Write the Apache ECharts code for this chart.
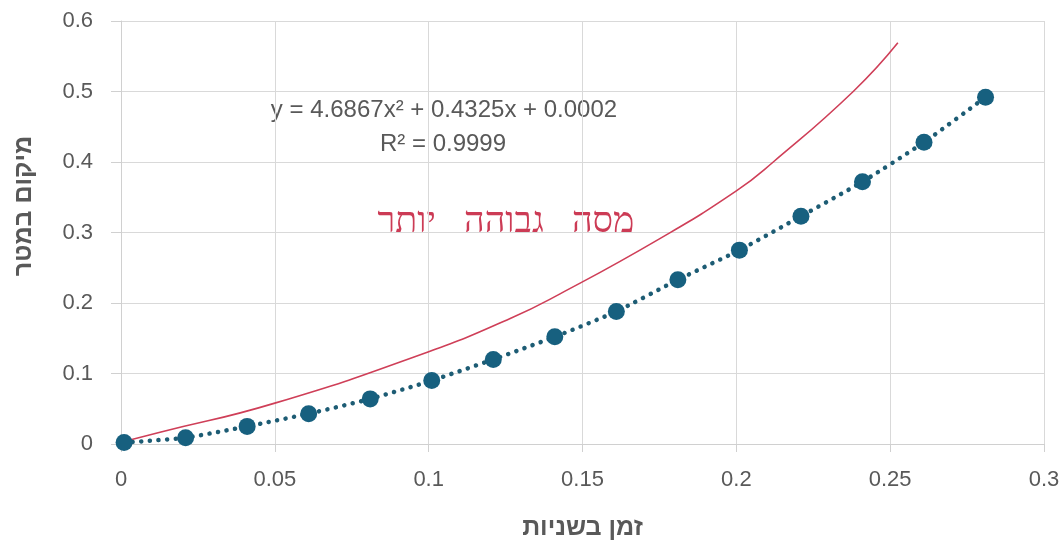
<!DOCTYPE html>
<html>
<head>
<meta charset="utf-8">
<script src="https://cdn.jsdelivr.net/npm/echarts@6/dist/echarts.min.js"></script>
<style>html,body{margin:0;padding:0;background:#fff;overflow:hidden}#c{width:1064px;height:546px}</style>
</head>
<body>
<div id="c"></div>
<script>
// Measured data (time in seconds, position in meters)
var timeValues = [0.001, 0.021, 0.041, 0.061, 0.081, 0.101, 0.121, 0.141, 0.161, 0.181, 0.201, 0.221, 0.241, 0.261, 0.281];
var positionValues = [0.002, 0.009, 0.025, 0.043, 0.064, 0.09, 0.12, 0.152, 0.188, 0.233, 0.275, 0.323, 0.372, 0.428, 0.492];
// Hand-drawn red curve ("higher mass")
var redX = [0.0013, 0.013, 0.05, 0.1, 0.1265, 0.1427, 0.175, 0.2, 0.212, 0.238, 0.2525];
var redY = [0.004, 0.017, 0.058, 0.131, 0.178, 0.213, 0.291, 0.359, 0.4, 0.5, 0.569];
var xTicks = [0, 0.05, 0.1, 0.15, 0.2, 0.25, 0.3];
var yTicks = [0, 0.1, 0.2, 0.3, 0.4, 0.5, 0.6];
var xTitle = 'זמן בשניות';
var yTitle = 'מיקום במטר';
var equationText = 'y = 4.6867x² + 0.4325x + 0.0002';
var r2Text = 'R² = 0.9999';
var noteText = 'מסה   גבוהה   יותר';

var pts = timeValues.map(function (x, i) { return [x, positionValues[i]]; });
var red = redX.map(function (x, i) { return [x, redY[i]]; });

var el = document.getElementById('c');
var chart = echarts.init(el);
var H = el.clientHeight;
var grey = '#595959';
var fmt = function (v) { return String(parseFloat(v.toFixed(2))); };
chart.setOption({
  animation: false,
  grid: { left: 121, right: 20, top: 21, bottom: H - 446 },
  xAxis: {
    type: 'value', min: xTicks[0], max: xTicks[xTicks.length - 1], interval: 0.05,
    name: xTitle, nameLocation: 'middle', nameGap: 72,
    nameTextStyle: { color: grey, fontSize: 25, fontWeight: 'bold', fontFamily: 'Liberation Sans' },
    axisLine: { show: true, lineStyle: { color: '#d0d0d0', width: 1 } },
    axisTick: { show: true, length: 8, lineStyle: { color: '#d0d0d0' } },
    axisLabel: { color: grey, fontSize: 22, margin: 25, fontFamily: 'Liberation Sans', formatter: fmt },
    splitLine: { show: true, lineStyle: { color: '#d9d9d9', width: 1 } }
  },
  yAxis: {
    type: 'value', min: yTicks[0], max: yTicks[yTicks.length - 1], interval: 0.1,
    axisLine: { show: true, lineStyle: { color: '#d0d0d0', width: 1 } },
    axisTick: { show: true, length: 10, lineStyle: { color: '#d0d0d0' } },
    axisLabel: { color: grey, fontSize: 22, margin: 28, fontFamily: 'Liberation Sans', formatter: fmt },
    splitLine: { show: true, lineStyle: { color: '#d9d9d9', width: 1 } }
  },
  series: [
    {
      type: 'line', data: red, smooth: true, showSymbol: false, symbol: 'none',
      lineStyle: { color: '#cf3f58', width: 1.6 }, z: 3
    },
    {
      type: 'line', data: pts, smooth: 0.2, symbol: 'circle', symbolSize: 17, showSymbol: true,
      itemStyle: { color: '#17607f' },
      lineStyle: { color: '#1d5c74', width: 4.5, type: [0.1, 8.5], cap: 'round' }, z: 4
    }
  ],
  graphic: [
    { type: 'text', rotation: Math.PI / 2, x: 24, y: 206,
      style: { text: yTitle, fill: grey, fontSize: 25, fontWeight: 'bold', fontFamily: 'Liberation Sans',
        textAlign: 'center', textVerticalAlign: 'middle' } },
    { type: 'text', x: 444, y: 110,
      style: { text: equationText, fill: grey, fontSize: 24, fontFamily: 'Liberation Sans',
        textAlign: 'center', textVerticalAlign: 'middle' } },
    { type: 'text', x: 443, y: 144,
      style: { text: r2Text, fill: grey, fontSize: 24, fontFamily: 'Liberation Sans',
        textAlign: 'center', textVerticalAlign: 'middle' } },
    { type: 'text', x: 506, y: 222,
      style: { text: noteText, fill: '#cc3b55', fontSize: 36, fontWeight: 200,
        fontFamily: 'Noto Sans', textAlign: 'center', textVerticalAlign: 'middle' } }
  ]
});
</script>
</body>
</html>
